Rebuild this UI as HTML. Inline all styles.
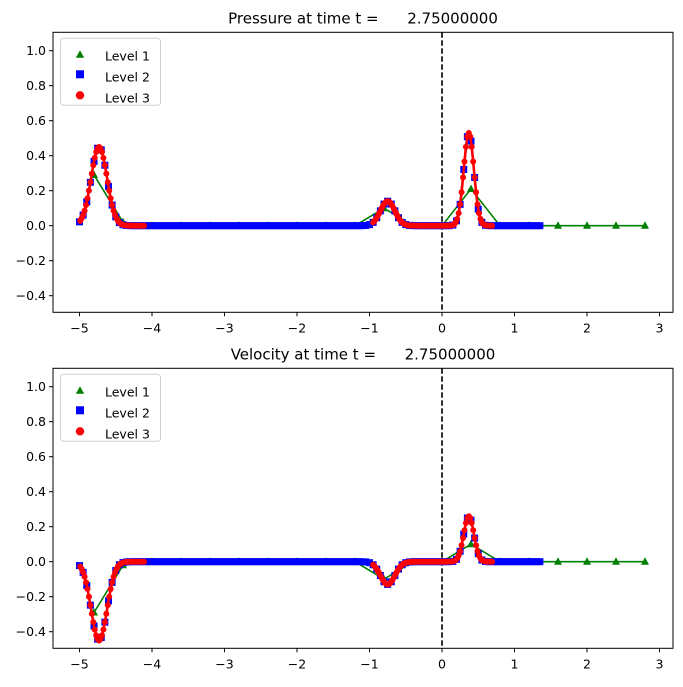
<!DOCTYPE html>
<html><head><meta charset="utf-8"><style>
body{margin:0;background:#fff}
svg text{font-family:"DejaVu Sans","Liberation Sans",sans-serif;fill:#000}
</style></head><body>
<svg id="s" width="683" height="682" xmlns="http://www.w3.org/2000/svg"></svg>
<script>
const S=document.getElementById('s');let h='';
const X=v=>442+72.5*v;
function g(x,a,c,s){return a*Math.exp(-((x-c)*(x-c))/(2*s*s));}
const P=x=>g(x,0.45,-4.73,0.11)+g(x,0.14,-0.75,0.1)+g(x,0.53,0.37,0.07);
const V=x=>g(x,-0.45,-4.73,0.11)+g(x,-0.13,-0.75,0.1)+g(x,0.26,0.37,0.07);
function panel(top,title,f,gv){
 const Y=v=>top+193.4-175*v;
 const L=53,R=673,B=top+280;
 h+=`<text x="363" y="${top-9}" font-size="15" text-anchor="middle" xml:space="preserve">${title}</text>`;
 const gx=[];for(let x=-4.8;x<=2.81;x+=0.4)gx.push(x);
 const gp=gx.map((x,i)=>[x,gv(x)]);
 const bx=[];for(let x=-5;x<=1.351;x+=0.05)bx.push([x,f(x)]);
 const r1=[],r2=[];for(let x=-4.99;x<=-4.1;x+=0.02)r1.push([x,f(x)]);for(let x=-0.95;x<=0.7;x+=0.02)r2.push([x,f(x)]);
 const pl=(a,c,w)=>`<polyline fill="none" stroke="${c}" stroke-width="${w}" points="${a.map(p=>X(p[0]).toFixed(1)+','+Y(p[1]).toFixed(1)).join(' ')}"/>`;
 h+=`<line x1="${X(0)}" y1="${top}" x2="${X(0)}" y2="${B}" stroke="#000" stroke-width="1.6" stroke-dasharray="5.5,2.5"/>`;
 h+=pl(gp,'green',1.6);
 gp.forEach(p=>{const x=X(p[0]),y=Y(p[1]);h+=`<polygon points="${x},${y-4.5} ${x-4},${y+3} ${x+4},${y+3}" fill="green"/>`});
 h+=pl(bx,'blue',2);
 bx.forEach(p=>{h+=`<rect x="${X(p[0])-3.5}" y="${Y(p[1])-3.5}" width="7" height="7" fill="blue"/>`});
 [r1,r2].forEach(r=>{h+=pl(r,'red',2.6);r.forEach(p=>{h+=`<circle cx="${X(p[0])}" cy="${Y(p[1])}" r="3" fill="red"/>`})});
 h+=`<rect x="${L}" y="${top}" width="${R-L}" height="280" fill="none" stroke="#000" stroke-width="1"/>`;
 for(let k=-2;k<=5;k++){const v=k*0.2,y=Y(v);h+=`<line x1="${L-4}" y1="${y}" x2="${L}" y2="${y}" stroke="#000"/><text x="${L-7}" y="${y+4.5}" font-size="12.5" text-anchor="end">${(v<0?'−':'')+Math.abs(v).toFixed(1)}</text>`;}
 for(let k=-5;k<=3;k++){const x=X(k);h+=`<line x1="${x}" y1="${B}" x2="${x}" y2="${B+4}" stroke="#000"/><text x="${x}" y="${B+20}" font-size="12.5" text-anchor="middle">${(k<0?'−':'')+Math.abs(k)}</text>`;}
 const ly=top+6;
 h+=`<rect x="60.5" y="${ly}" width="100" height="67" rx="3" fill="#fff" fill-opacity="0.8" stroke="#d0d0d0"/>`;
 h+=`<polygon points="80,${ly+12} 75.8,${ly+19.5} 84.2,${ly+19.5}" fill="green"/><text x="105" y="${ly+22}" font-size="12.5">Level 1</text>`;
 h+=`<rect x="76" y="${ly+32}" width="8" height="8" fill="blue"/><text x="105" y="${ly+43}" font-size="12.5">Level 2</text>`;
 h+=`<circle cx="80" cy="${ly+57}" r="4.2" fill="red"/><text x="105" y="${ly+64}" font-size="12.5">Level 3</text>`;
}
panel(32.3,'Pressure at time t =      2.75000000',P,x=>{const k=x.toFixed(1);return {'-4.8':0.29,'-4.4':0.02,'-0.8':0.1,'0.4':0.21}[k]||0;});
panel(368.3,'Velocity at time t =      2.75000000',V,x=>{const k=x.toFixed(1);return {'-4.8':-0.29,'-4.4':-0.02,'-0.8':-0.1,'0.4':0.1}[k]||0;});
S.innerHTML=h;
</script>
</body></html>
